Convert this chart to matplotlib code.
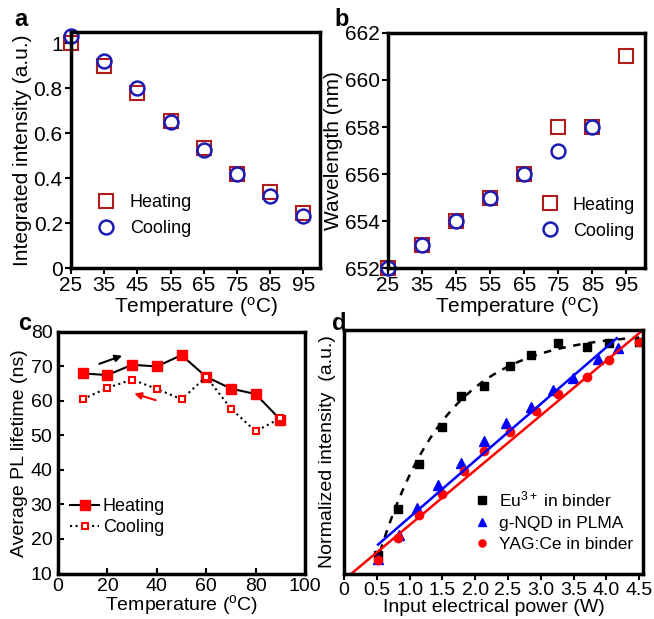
import numpy as np
import matplotlib
matplotlib.use("Agg")
import matplotlib.pyplot as plt

plt.rcParams['font.family'] = ['Liberation Sans', 'DejaVu Sans']
plt.rcParams['mathtext.fontset'] = 'custom'
plt.rcParams['mathtext.rm'] = 'Liberation Sans'
plt.rcParams['mathtext.it'] = 'Liberation Sans:italic'
plt.rcParams['mathtext.bf'] = 'Liberation Sans:bold'

# panel a: integrated intensity vs temperature
temp_ab = [25, 35, 45, 55, 65, 75, 85, 95]
int_heat = [1.0, 0.90, 0.78, 0.655, 0.535, 0.42, 0.34, 0.245]
int_cool = [1.03, 0.92, 0.80, 0.65, 0.525, 0.42, 0.32, 0.23]

# panel b: wavelength vs temperature
wl_heat = [652, 653, 654, 655, 656, 658, 658, 661]
temp_b_cool = [25, 35, 45, 55, 65, 75, 85]
wl_cool = [652, 653, 654, 655, 656, 657, 658]

# panel c: PL lifetime
temp_c = [10, 20, 30, 40, 50, 60, 70, 80, 90]
life_heat = [68, 67.5, 70.5, 70, 73.3, 67, 63.6, 62, 54.6]
life_cool = [60.5, 63.8, 66.2, 63.5, 60.5, 67, 57.8, 51.2, 55]

# panel d: normalized intensity vs input power
p_eu = [0.52, 0.83, 1.14, 1.49, 1.78, 2.14, 2.53, 2.85, 3.26, 3.70, 4.04, 4.50]
i_eu = [0.078, 0.265, 0.448, 0.60, 0.729, 0.772, 0.851, 0.896, 0.946, 0.932, 0.948, 0.952]
p_nqd = [0.52, 0.84, 1.12, 1.44, 1.79, 2.14, 2.47, 2.85, 3.18, 3.49, 3.87, 4.18]
i_nqd = [0.058, 0.157, 0.271, 0.363, 0.454, 0.546, 0.618, 0.682, 0.753, 0.804, 0.881, 0.928]
p_yag = [0.52, 0.83, 1.14, 1.49, 1.83, 2.14, 2.53, 2.93, 3.26, 3.70, 4.04, 4.50]
i_yag = [0.055, 0.144, 0.239, 0.325, 0.42, 0.503, 0.583, 0.668, 0.739, 0.806, 0.878, 0.952]

# fit parameters
nqd_fit = (0.2327, -0.002)   # slope, intercept
yag_fit = (0.225, -0.026)
eu_fit = (0.99, 0.45, 1.05)  # amplitude, onset, scale

heat_col = '#b01c1c'
cool_col = '#1c1cb4'

fig = plt.figure(figsize=(6.54, 6.19), dpi=100)
axa = fig.add_axes([0.1086, 0.567, 0.3807, 0.3813])
axb = fig.add_axes([0.5933, 0.567, 0.393, 0.3797])
axc = fig.add_axes([0.0887, 0.0735, 0.3777, 0.3902])
axd = fig.add_axes([0.526, 0.0735, 0.4572, 0.3934])

for ax in (axa, axb, axc, axd):
    for s in ax.spines.values():
        s.set_linewidth(2.5)
    ax.tick_params(labelsize=14, width=1.5, length=4, pad=2)
for ax in (axa, axb):
    ax.tick_params(labelsize=15)

degC = 'Temperature ($^{\\rm o}$C)'

# a
axa.plot(temp_ab, int_heat, 's', ms=10, mfc='none', mec=heat_col, mew=1.5, label='Heating', clip_on=False)
axa.plot(temp_ab, int_cool, 'o', ms=10, mfc='none', mec=cool_col, mew=1.8, label='Cooling', clip_on=False)
axa.set_xlim(25, 100)
axa.set_ylim(0, 1.05)
axa.set_xticks(temp_ab)
axa.set_yticks([0, 0.2, 0.4, 0.6, 0.8, 1])
axa.set_yticklabels(['0', '0.2', '0.4', '0.6', '0.8', '1'])
axa.set_xlabel(degC, fontsize=15, labelpad=0)
axa.set_ylabel('Integrated intensity (a.u.)', fontsize=15, labelpad=1)
axa.legend(loc='lower left', bbox_to_anchor=(0.04, 0.1), frameon=False, fontsize=13,
           handletextpad=0.3, borderaxespad=0, labelspacing=0.5)

# b
axb.plot(temp_ab, wl_heat, 's', ms=10, mfc='none', mec=heat_col, mew=1.5, label='Heating', clip_on=False)
axb.plot(temp_b_cool, wl_cool, 'o', ms=10, mfc='none', mec=cool_col, mew=1.8, label='Cooling', clip_on=False)
axb.set_xlim(25, 100.5)
axb.set_ylim(652, 662)
axb.set_xticks(temp_ab)
axb.set_yticks([652, 654, 656, 658, 660, 662])
axb.set_xlabel(degC, fontsize=15, labelpad=0)
axb.set_ylabel('Wavelength (nm)', fontsize=15, labelpad=1)
axb.legend(loc='lower left', bbox_to_anchor=(0.53, 0.09), frameon=False, fontsize=13,
           handletextpad=0.3, borderaxespad=0, labelspacing=0.5)

# c
axc.plot(temp_c, life_heat, '-s', color='black', lw=1.5, ms=7, mfc='red', mec='red', label='Heating')
axc.plot(temp_c, life_cool, ':s', color='black', lw=1.5, ms=5, mfc='white', mec='red', mew=1.5, label='Cooling')
axc.annotate('', xy=(27, 73.4), xytext=(15.7, 70.5),
             arrowprops=dict(arrowstyle='-|>', color='black', lw=1.5, mutation_scale=10))
axc.annotate('', xy=(29.8, 62.4), xytext=(40.6, 60),
             arrowprops=dict(arrowstyle='-|>', color='red', lw=1.5, mutation_scale=10))
axc.set_xlim(0, 100)
axc.set_ylim(10, 80)
axc.set_xticks([0, 20, 40, 60, 80, 100])
axc.set_yticks([10, 20, 30, 40, 50, 60, 70, 80])
axc.tick_params(direction='in')
axc.tick_params(axis='x', pad=3)
axc.tick_params(axis='y', pad=4)
axc.set_xlabel(degC, fontsize=14, labelpad=-1)
axc.set_ylabel('Average PL lifetime (ns)', fontsize=14, labelpad=2)
axc.legend(loc='lower left', bbox_to_anchor=(0.02, 0.125), frameon=False, fontsize=13,
           handlelength=1.6, handletextpad=0.2, borderaxespad=0, labelspacing=0.2)

# d
axd.plot(p_eu, i_eu, 's', color='black', ms=6, label='Eu$^{3+}$ in binder')
axd.plot(p_nqd, i_nqd, '^', color='blue', ms=7, label='g-NQD in PLMA')
axd.plot(p_yag, i_yag, 'o', color='red', ms=6, label='YAG:Ce in binder')
xe = np.linspace(0.55, 4.5, 100)
axd.plot(xe, eu_fit[0] * (1 - np.exp(-(xe - eu_fit[1]) / eu_fit[2])), color='black', lw=1.8,
         dashes=(3, 3))
xb = np.array([0.52, 4.16])
axd.plot(xb, nqd_fit[0] * xb + nqd_fit[1], '-', color='blue', lw=1.8)
xr = np.array([0, 4.6])
axd.plot(xr, yag_fit[0] * xr + yag_fit[1], '-', color='red', lw=1.8)
axd.set_xlim(0, 4.56)
axd.set_ylim(0, 1)
axd.set_xticks([0, 0.5, 1.0, 1.5, 2.0, 2.5, 3.0, 3.5, 4.0, 4.5])
axd.set_xticklabels(['0', '0.5', '1.0', '1.5', '2.0', '2.5', '3.0', '3.5', '4.0', '4.5'])
axd.set_yticks([])
axd.set_xlabel('Input electrical power (W)', fontsize=14, labelpad=0)
axd.set_ylabel('Normalized intensity  (a.u.)', fontsize=14, labelpad=6)
axd.legend(loc='lower right', bbox_to_anchor=(0.99, 0.06), frameon=False, fontsize=12.5,
           handlelength=1.0, handletextpad=0.5, markerscale=0.85, borderaxespad=0, labelspacing=0.35)

# panel letters
for x, y, t in [(0.022, 0.968, 'a'), (0.512, 0.968, 'b'), (0.027, 0.478, 'c'), (0.507, 0.478, 'd')]:
    fig.text(x, y, t, fontsize=17, fontweight='bold', ha='left', va='center')

fig.savefig('out.png', dpi=100)
plt.close(fig)
